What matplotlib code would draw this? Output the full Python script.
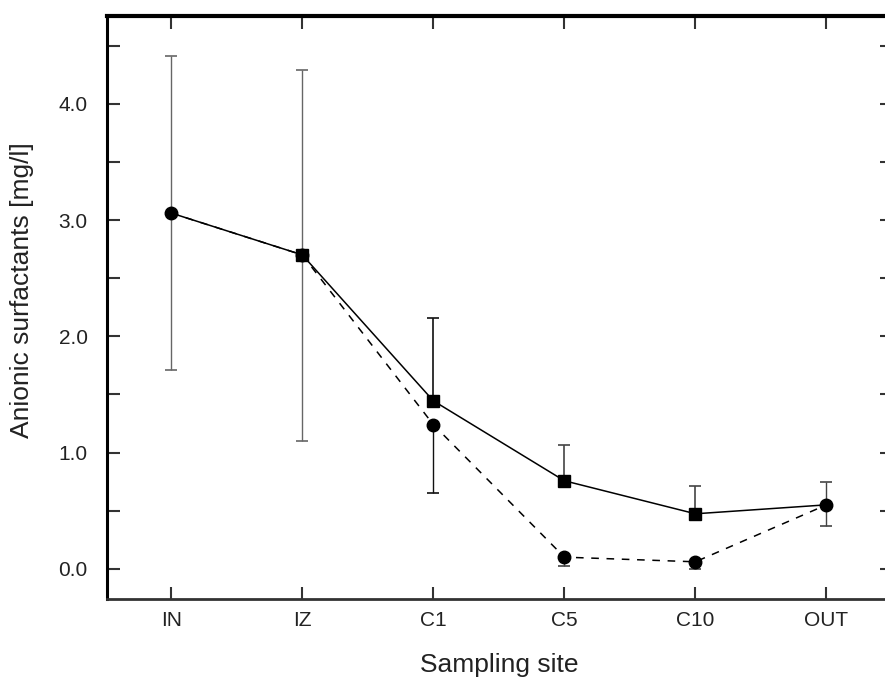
import numpy as np
import matplotlib
matplotlib.use("Agg")
import matplotlib.pyplot as plt

plt.rcParams['font.family'] = ['Liberation Sans', 'DejaVu Sans']

sites = ["IN", "IZ", "C1", "C5", "C10", "OUT"]

# solid line, squares
sq_vals = [3.06, 2.70, 1.445, 0.757, 0.473, 0.55]
sq_err_up = [0, 0, 0.715, 0.31, 0.24, 0]

# dashed line, circles
ci_vals = [3.06, 2.70, 1.24, 0.10, 0.06, 0.55]
ci_err_up = [1.35, 1.59, 0, 0, 0, 0.20]
ci_err_lo = [1.35, 1.60, 0.59, 0.08, 0.06, 0.18]

bar_colors = ["#666666", "#666666", "#111111", "#444444", "#444444", "#444444"]


def main():
    fig = plt.figure(figsize=(8.85, 6.83), dpi=100)
    ax = fig.add_axes([107 / 885, 1 - 599 / 683, 785 / 885, 583 / 683])
    x = np.arange(len(sites))

    # error bars first, then lines and markers on top
    for i in range(len(sites)):
        up = sq_err_up[i]
        if up > 0:
            ax.errorbar(x[i], sq_vals[i], yerr=[[0], [up]], fmt="none",
                        ecolor=bar_colors[i], elinewidth=1.2, capsize=4.5, capthick=1.2)
        lo, up = ci_err_lo[i], ci_err_up[i]
        if lo > 0 or up > 0:
            ax.errorbar(x[i], ci_vals[i], yerr=[[lo], [up]], fmt="none",
                        ecolor=bar_colors[i], elinewidth=1.0, capsize=4.5, capthick=1.2)

    # squares hidden under the circles where both series meet (IN, OUT)
    ax.plot(x, sq_vals, color="black", lw=1.1, marker="s", ms=8,
            markevery=[1, 2, 3, 4], zorder=3)
    ax.plot(x, ci_vals, color="black", lw=1.1, ls=(0, (5, 5)), marker="o", ms=9, zorder=4)

    ax.set_xlim(-0.49, 5.5)
    ax.set_ylim(-0.26, 4.755)
    ax.set_xticks(x)
    ax.set_xticklabels(sites)
    yt = np.arange(0, 4.6, 0.5)
    ax.set_yticks(yt)
    ax.set_yticklabels([f"{v:.1f}" if v == int(v) else "" for v in yt])

    ax.tick_params(axis="both", direction="in", length=9, width=1.5, color="#333333",
                   labelsize=15, labelcolor="#222222", top=True, right=True)
    ax.tick_params(axis="x", pad=9)
    ax.tick_params(axis="y", pad=14)

    ax.spines["top"].set_linewidth(3)
    ax.spines["left"].set_linewidth(2.2)
    ax.spines["bottom"].set_linewidth(2)
    ax.spines["bottom"].set_color("#333333")
    ax.spines["right"].set_linewidth(2)

    ax.set_xlabel("Sampling site", fontsize=19, color="#222222", labelpad=16)
    ax.set_ylabel("Anionic surfactants [mg/l]", fontsize=19, color="#222222")
    ax.yaxis.set_label_coords(-0.093, 0.53)

    fig.savefig("out.png", dpi=100)


main()
